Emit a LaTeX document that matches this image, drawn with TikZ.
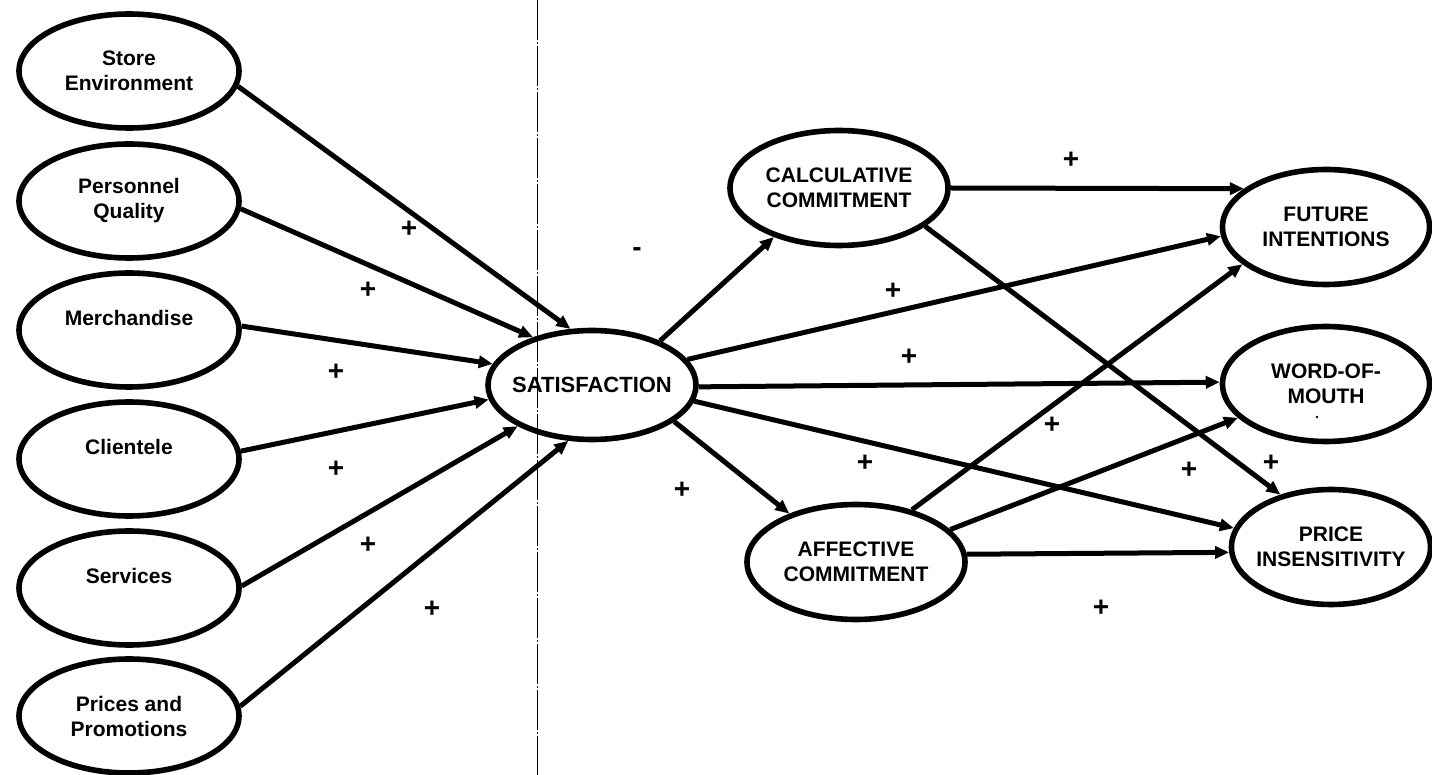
\documentclass[tikz,border=0pt]{standalone}
\usepackage{fontspec}
\setmainfont{Liberation Sans}
\usetikzlibrary{arrows.meta,shapes.geometric}
\begin{document}
\begin{tikzpicture}[x=0.5pt,y=-0.5pt,
  construct/.style={ellipse, draw, line width=2.8pt, inner xsep=-12pt, inner ysep=0pt,
    align=center, font=\bfseries\fontsize{10.5}{12.5}\selectfont},
  leftc/.style={construct, minimum width=110pt, minimum height=57pt},
  midc/.style={construct, minimum width=109pt, minimum height=57.5pt},
  rightc/.style={construct, minimum width=103.5pt, minimum height=57.5pt},
  link/.style={line width=2.5pt, -{Triangle[length=7pt,width=6pt]}},
  sign/.style={font=\bfseries\fontsize{14}{14}\selectfont, inner sep=0pt},
  divider/.style={line width=0.5pt, dash pattern=on 20pt off 1pt on 1pt off 1pt},
]
\useasboundingbox (0,0) rectangle (1432,775);

% vertical divider between antecedents and outcomes
\coordinate (divtop) at (537,0);
\coordinate (divbot) at (537,775);
\draw[divider] (divtop) -- (divbot);

% antecedents of satisfaction
\node[leftc] (se) at (129,71)  {Store\\Environment};
\node[leftc] (pq) at (129,201) {Personnel\\Quality};
\node[leftc] (me) at (129,330) {Merchandise\\\mbox{}};
\node[leftc] (cl) at (129,459) {Clientele\\\mbox{}};
\node[leftc] (sv) at (129,588) {Services\\\mbox{}};
\node[leftc] (pp) at (129,716) {Prices and\\Promotions};

% central construct
\node[construct, minimum width=104pt, minimum height=54.5pt,
      font=\bfseries\fontsize{11}{13}\selectfont] (sat) at (592,385) {SATISFACTION};

% commitment constructs
\node[midc] (calc) at (839,188) {CALCULATIVE\\COMMITMENT};
\node[midc] (aff)  at (856,562) {AFFECTIVE\\COMMITMENT};

% outcomes
\node[rightc] (fut)   at (1326,227) {FUTURE\\INTENTIONS};
\node[rightc] (wom)   at (1326,384) {WORD-OF-\\MOUTH};
\node[rightc, minimum width=99.5pt] (price) at (1331,547) {PRICE\\INSENSITIVITY};
\fill ([shift={(-9,33)}]wom.center) circle (1.3);

% antecedents -> satisfaction
\draw[link] (se.-8)  -- (sat.111);
\draw[link] (pq.-4)  -- (sat.141);
\draw[link] (me.2)   -- (sat.168);
\draw[link] (cl.4)   -- (sat.-172);
\draw[link] (sv.1)   -- (sat.-151);
\draw[link] (pp.5)   -- (sat.-113);

% satisfaction -> commitment and outcomes
\draw[link] (sat.33)  -- (calc.-143);
\draw[link] (sat.-24) -- (aff.144);
\draw[link] (sat.15)  -- (fut.-175);
\draw[link] (sat.-1)  -- (wom.179);
\draw[link] (sat.-9)  -- (price.169);

% commitment -> outcomes
\draw[link] (calc.0)   -- (fut.155);
\draw[link] (calc.-24) -- (price.134);
\draw[link] (aff.43)   -- (fut.-156);
\draw[link] (aff.19)   -- (wom.-159);
\draw[link] (aff.4)    -- (price.-177);

% signs of the paths
\node[sign] (s1)  at (409,229) {+};
\node[sign] (s2)  at (368,290) {+};
\node[sign] (s3)  at (336,372) {+};
\node[sign] (s4)  at (336,469) {+};
\node[sign] (s5)  at (368,545) {+};
\node[sign] (s6)  at (432,609) {+};
\node[sign] (s7)  at (637,252) {-};
\node[sign] (s8)  at (1071,160) {+};
\node[sign] (s9)  at (893,291) {+};
\node[sign] (s10) at (909,357) {+};
\node[sign] (s11) at (1052,425) {+};
\node[sign] (s12) at (865,463) {+};
\node[sign] (s13) at (1189,470) {+};
\node[sign] (s14) at (1271,463) {+};
\node[sign] (s15) at (682,490) {+};
\node[sign] (s16) at (1101,608) {+};
\end{tikzpicture}
\end{document}
